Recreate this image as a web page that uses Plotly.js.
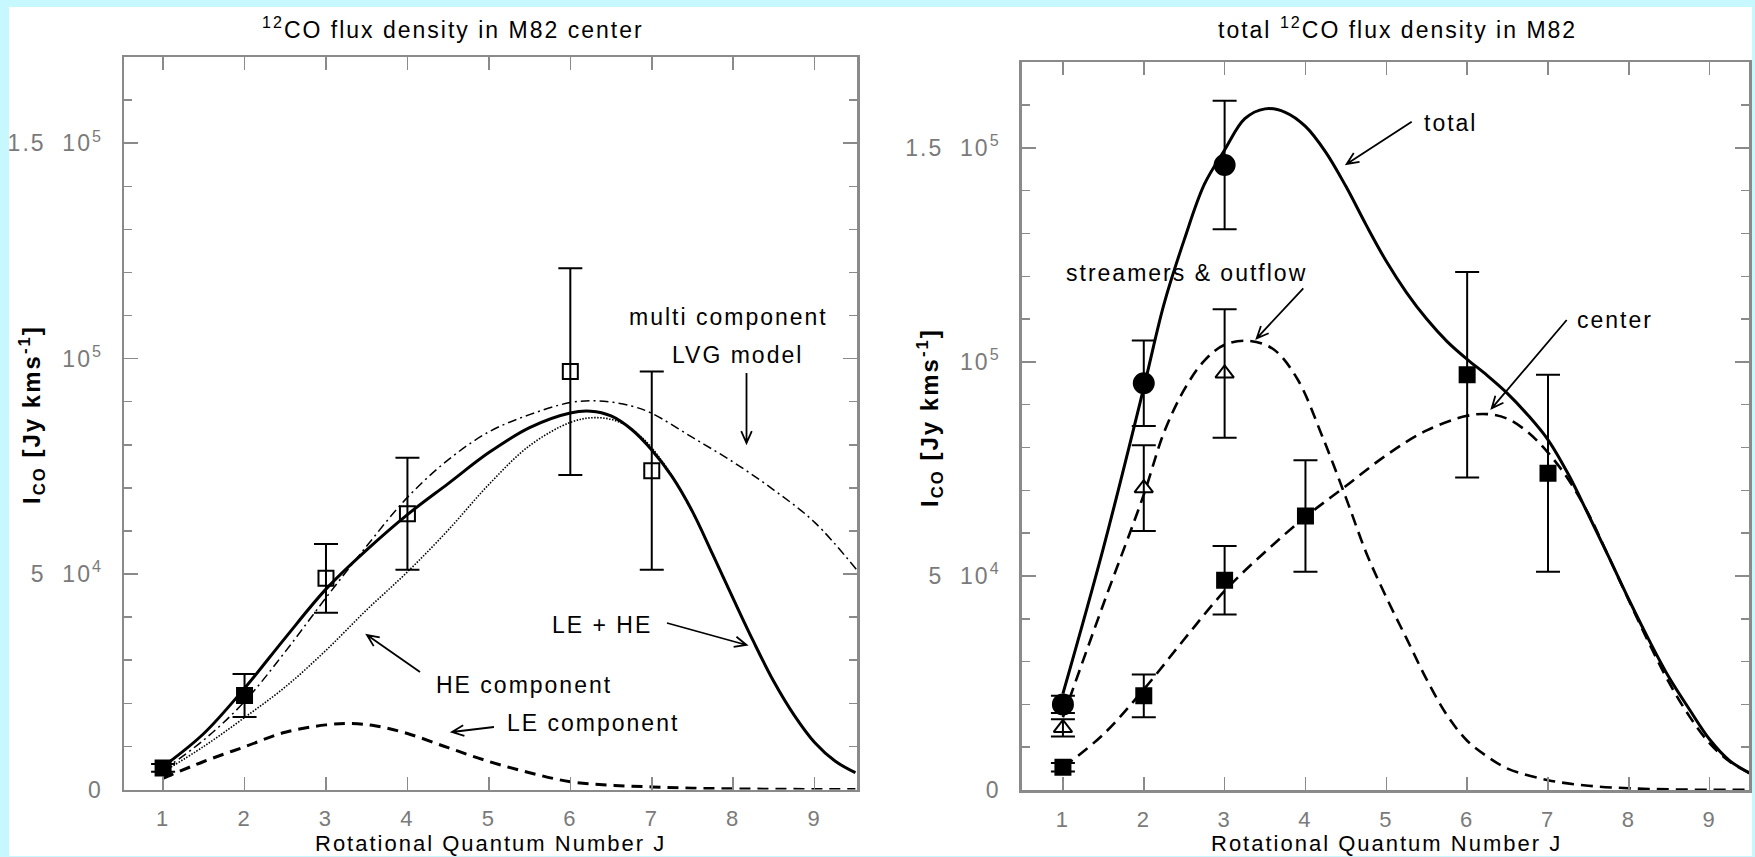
<!DOCTYPE html>
<html>
<head>
<meta charset="utf-8">
<script src="https://cdn.plot.ly/plotly-3.0.1.min.js"></script>
<style>
html,body{margin:0;padding:0;background:#c8f8ff;}
svg text{letter-spacing:2px;}
</style>
</head>
<body>
<div id="chart" style="width:1755px;height:857px;"></div>
<script>
// ---------- data ----------
const tickJ = [1,2,3,4,5,6,7,8,9];
const yTickVals = [0,50000,100000,150000];
const yTickText = ['0','5\u00a0\u00a010<sup>4</sup>','10<sup>5</sup>','1.5\u00a0\u00a010<sup>5</sup>'];

// left panel: model curves
const J_center = [1,1.5,2,2.5,3,3.5,4,4.5,5,5.5,6,6.25,6.5,6.75,7,7.25,7.5,7.75,8,8.25,8.5,8.75,9,9.25,9.5];
const I_center = [5300,13000,23500,35200,46500,55600,63800,71000,78200,84000,87400,87800,86700,83600,78800,72600,64500,54500,44300,34300,25000,17200,10900,6600,3900];

const J_he = [1,1.5,2,2.5,3,3.5,4,4.5,5,5.5,6,6.3,6.6,6.9,7.2,7.5,7.75,8,8.25,8.5,8.75,9,9.25,9.5];
const I_he = [4100,10000,16700,23800,32300,41700,50500,60200,70800,79800,85200,86300,85300,81300,74200,64300,54400,44200,34300,25000,17200,10900,6600,3900];

const J_lvg = [1,1.5,2,2.5,3,3.5,4,4.5,5,5.5,6,6.35,6.75,7,7.5,8,8.5,9,9.52];
const I_lvg = [4500,11500,20400,32000,44500,56500,67800,76500,83000,87000,89800,90200,89000,87300,81700,76000,69500,62000,50900];

const J_le = [1,1.5,2,2.5,3,3.3,3.6,4,4.5,5,5.5,6,6.5,7,7.5,8,8.5,9,9.5];
const I_le = [2600,6500,9900,13300,15000,15300,14800,13000,9700,6500,3900,1800,1000,600,300,150,60,20,10];

// left panel: measurements
const J_leftFilled = [1,2];
const I_leftFilled = [5000,21800];
const E_leftFilled = [900,5000];
const J_leftOpen = [3,4,6,7];
const I_leftOpen = [49000,64000,97000,74000];
const E_leftOpen = [8000,13000,24000,23000];

// right panel: model curves
const J_str = [1,1.5,2,2.25,2.5,2.75,3,3.3,3.6,3.9,4.2,4.5,4.75,5,5.25,5.5,5.75,6,6.25,6.5,7,7.5,8,8.5,9,9.5];
const I_str = [17000,43400,69000,83500,93500,100300,104000,104900,103000,96000,83000,68300,55500,45000,35400,25800,17500,11500,7800,5000,2300,1000,400,150,50,20];

const J_tot = [1,1.5,2,2.25,2.5,2.75,3,3.25,3.5,3.75,4,4.25,4.5,4.75,5,5.25,5.5,5.75,6,6.25,6.5,6.75,7,7.25,7.5,7.75,8,8.25,8.5,8.75,9,9.25,9.5];
const I_tot = [22500,56500,94000,113500,128500,141500,149500,156800,159100,158300,155000,149000,141000,132000,123500,116200,110000,104800,100600,96800,92600,87600,81800,73800,64300,54500,44500,35000,26200,18800,11800,6800,3900];

// right panel: measurements
const J_circ = [1,2,3];
const I_circ = [20000,95000,146000];
const E_circ = [2000,10000,15000];
const J_tri = [1,2,3];
const I_tri = [14500,70500,97300];
const E_tri = [2000,10000,15000];
const J_sq = [1,2,3,4,6,7];
const I_sq = [5300,22000,49000,64000,97000,74000];
const E_sq = [1000,5000,8000,13000,24000,23000];

// ---------- styling ----------
const W = 1755, H = 857;
const FONT = 'Liberation Sans, Arial, sans-serif';
const AX = '#8a8a8a';
const TICKC = '#7a7a7a';
const fx = px => px / W;
const fy = py => 1 - py / H;

function line(x, y, xa, ya, width, dash) {
  return {x, y, xaxis: xa, yaxis: ya, type: 'scatter', mode: 'lines',
    line: {color: 'black', width, dash, shape: 'spline', smoothing: 1.0},
    hoverinfo: 'skip', showlegend: false};
}
function pts(x, y, e, xa, ya, symbol, size, capw) {
  return {x, y, xaxis: xa, yaxis: ya, type: 'scatter', mode: 'markers',
    marker: {symbol, size, color: 'black', line: {color: 'black', width: 2}},
    error_y: {type: 'data', array: e, visible: true, color: 'black', thickness: 2, width: capw},
    showlegend: false};
}

const traces = [
  line(J_lvg, I_lvg, 'x', 'y', 1.5, '9px,4px,2px,4px'),
  line(J_he, I_he, 'x', 'y', 1.6, '1.5px,1.5px'),
  line(J_le, I_le, 'x', 'y', 3, '11px,7px'),
  line(J_center, I_center, 'x', 'y', 3, 'solid'),
  pts(J_leftFilled, I_leftFilled, E_leftFilled, 'x', 'y', 'square', 15, 12),
  pts(J_leftOpen, I_leftOpen, E_leftOpen, 'x', 'y', 'square-open', 15, 12),

  line(J_str, I_str, 'x2', 'y2', 2.6, '12px,7px'),
  line(J_center, I_center, 'x2', 'y2', 2.6, '12px,7px'),
  line(J_tot, I_tot, 'x2', 'y2', 3, 'solid'),
  pts(J_sq, I_sq, E_sq, 'x2', 'y2', 'square', 15, 12),
  pts(J_tri, I_tri, E_tri, 'x2', 'y2', 'triangle-up-open', 16, 12),
  pts(J_circ, I_circ, E_circ, 'x2', 'y2', 'circle', 20, 12)
];

function xAxis(domain, range, anchor) {
  return {domain, range, anchor, tickmode: 'array', tickvals: tickJ,
    ticks: 'inside', ticklen: 13, tickwidth: 1.5, tickcolor: AX,
    showline: true, linecolor: AX, linewidth: 2.5, mirror: 'ticks',
    showgrid: false, zeroline: false, ticklabelstandoff: 8,
    tickfont: {family: FONT, size: 22, color: TICKC}, fixedrange: true};
}
function yAxis(domain, anchor) {
  return {domain, range: [0, 170000], anchor, tickmode: 'array',
    tickvals: yTickVals, ticktext: yTickText,
    ticks: 'inside', ticklen: 14, tickwidth: 1.5, tickcolor: AX,
    minor: {tickmode: 'linear', tick0: 0, dtick: 10000, ticks: 'inside', ticklen: 8, tickwidth: 1.5, tickcolor: AX, showgrid: false},
    showline: true, linecolor: AX, linewidth: 2.5, mirror: 'ticks',
    showgrid: false, zeroline: false, ticklabelstandoff: 14,
    tickfont: {family: FONT, size: 23, color: TICKC}, fixedrange: true};
}

function txt(text, x, y, size, extra) {
  return Object.assign({text, x: fx(x), y: fy(y), xref: 'paper', yref: 'paper',
    xanchor: 'center', yanchor: 'middle', showarrow: false,
    font: {family: FONT, size, color: 'black'}}, extra || {});
}

const annotations = [
  txt('<sup>12</sup>CO flux density in M82 center', 453, 28, 23),
  txt('total <sup>12</sup>CO flux density in M82', 1397, 28, 23),
  txt('Rotational Quantum Number J', 490, 843, 22),
  txt('Rotational Quantum Number J', 1386, 843, 22),
  txt('<b>I<sub>CO</sub> [Jy kms<sup>-1</sup>]</b>', 32, 415, 24, {textangle: -90}),
  txt('<b>I<sub>CO</sub> [Jy kms<sup>-1</sup>]</b>', 930, 418, 24, {textangle: -90}),
  txt('multi component', 728, 317, 23),
  txt('LVG model', 737, 355, 23),
  txt('LE + HE', 602, 625, 23),
  txt('HE component', 524, 685, 23),
  txt('LE component', 593, 723, 23),
  txt('total', 1450, 123, 23),
  txt('streamers & outflow', 1186, 273, 23),
  txt('center', 1615, 320, 23)
];

function arrow(x0, y0, x1, y1) {
  const a = Math.atan2(y1 - y0, x1 - x0), L = 13, h = 0.42;
  const p1 = [x1 - L * Math.cos(a - h), y1 - L * Math.sin(a - h)];
  const p2 = [x1 - L * Math.cos(a + h), y1 - L * Math.sin(a + h)];
  const P = p => fx(p[0]).toFixed(5) + ',' + fy(p[1]).toFixed(5);
  return {type: 'path', xref: 'paper', yref: 'paper',
    path: 'M' + P([x0, y0]) + ' L' + P([x1, y1]) + ' M' + P(p1) + ' L' + P([x1, y1]) + ' L' + P(p2),
    line: {color: 'black', width: 1.8}};
}

const shapes = [
  {type: 'rect', xref: 'paper', yref: 'paper', x0: fx(9), x1: fx(1752), y0: fy(856), y1: fy(7),
   fillcolor: 'white', line: {width: 0}, layer: 'below'},
  arrow(746.5, 373, 746.5, 443),
  arrow(667, 623, 746.5, 645),
  arrow(420, 672, 367, 635),
  arrow(494, 727, 452, 732),
  arrow(1411.7, 121.7, 1346.7, 164),
  arrow(1303.3, 288.3, 1256.7, 338.3),
  arrow(1566.7, 320, 1491.7, 408.3)
];

const layout = {
  width: W, height: H,
  margin: {l: 0, r: 0, t: 0, b: 0},
  paper_bgcolor: '#c8f8ff',
  plot_bgcolor: 'white',
  showlegend: false,
  xaxis: xAxis([fx(124), fx(857)], [0.52, 9.52], 'y'),
  yaxis: yAxis([fy(789.5), fy(57)], 'x'),
  xaxis2: xAxis([fx(1021.7), fx(1749.3)], [0.49, 9.49], 'y2'),
  yaxis2: yAxis([fy(790), fy(62.2)], 'x2'),
  annotations, shapes
};

Plotly.newPlot('chart', traces, layout, {displayModeBar: false, staticPlot: true});
</script>
</body>
</html>
